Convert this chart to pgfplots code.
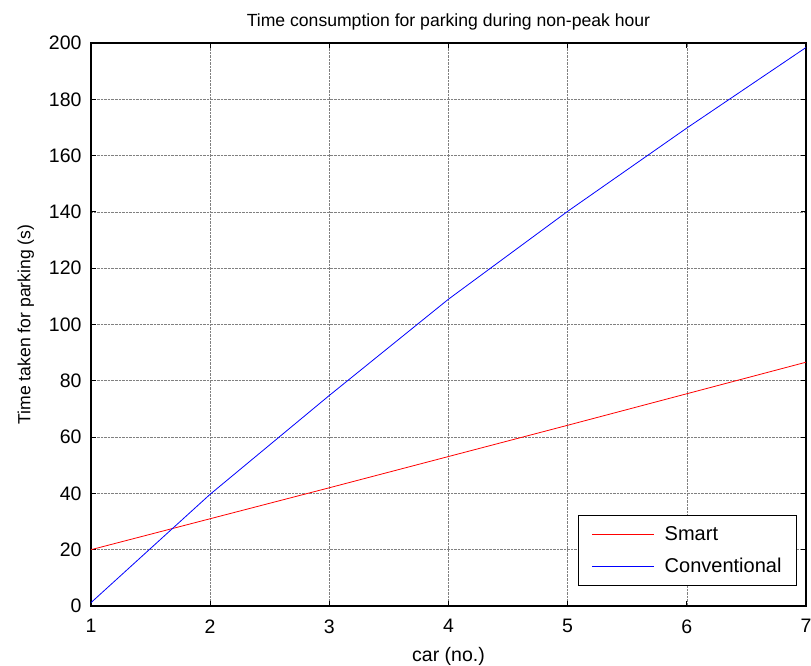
\documentclass[border=0pt]{standalone}
\usepackage{pgfplots}
\pgfplotsset{compat=1.18}
\usepackage{fontspec}
\setmainfont{Liberation Sans}

% Parking time per car, non-peak hour
\pgfplotstableread{
car smart conventional
1   20.0  1.2
2   31.0  39.7
3   42.0  74.8
4   53.1  109.0
5   64.2  140.2
6   75.4  169.8
7   86.6  198.4
}\parkingdata

\begin{document}
\begin{tikzpicture}
\useasboundingbox (-91bp,-60bp) rectangle (720bp,606bp);
\begin{axis}[
  scale only axis,
  width=715bp, height=563bp,
  xmin=1, xmax=7, ymin=0, ymax=200,
  xtick={1,...,7},
  ytick={0,20,...,200},
  tick align=inside,
  tick pos=both,
  major tick length=5bp,
  tick style={black, line width=0.8bp},
  axis line style={black, line width=1.5bp},
  grid=major,
  major grid style={densely dotted, black!50, line width=0.6bp},
  /pgf/number format/assume math mode=true,
  tick label style={font=\fontsize{19.5bp}{22bp}\selectfont},
  xticklabel style={yshift=-10bp},
  yticklabel style={xshift=-6bp},
  title style={font=\fontsize{17.6bp}{20bp}\selectfont, yshift=3bp},
  title={Time consumption for parking during non-peak hour},
  xlabel style={font=\fontsize{19.5bp}{22bp}\selectfont, yshift=-7bp},
  ylabel style={font=\fontsize{17.6bp}{20bp}\selectfont, yshift=8bp},
  xlabel={car (no.)},
  ylabel={Time taken for parking (s)},
  legend cell align=left,
  legend style={
    at={(rel axis cs:0.9874,0.0355)}, anchor=south east,
    font=\fontsize{20bp}{22bp}\selectfont,
    line width=1bp,
    inner xsep=13bp, inner ysep=9.5bp,
    row sep=12bp,
    /tikz/every odd column/.append style={column sep=8bp},
  },
  legend image code/.code={
    \draw[#1, line width=0.8bp] plot coordinates {(0bp,0bp) (62bp,0bp)};
  },
]
\addplot[red, line width=0.8bp] table[x=car, y=smart] {\parkingdata};
\addlegendentry{Smart}
\addplot[blue, line width=0.8bp] table[x=car, y=conventional] {\parkingdata};
\addlegendentry{Conventional}
\end{axis}
\end{tikzpicture}
\end{document}
